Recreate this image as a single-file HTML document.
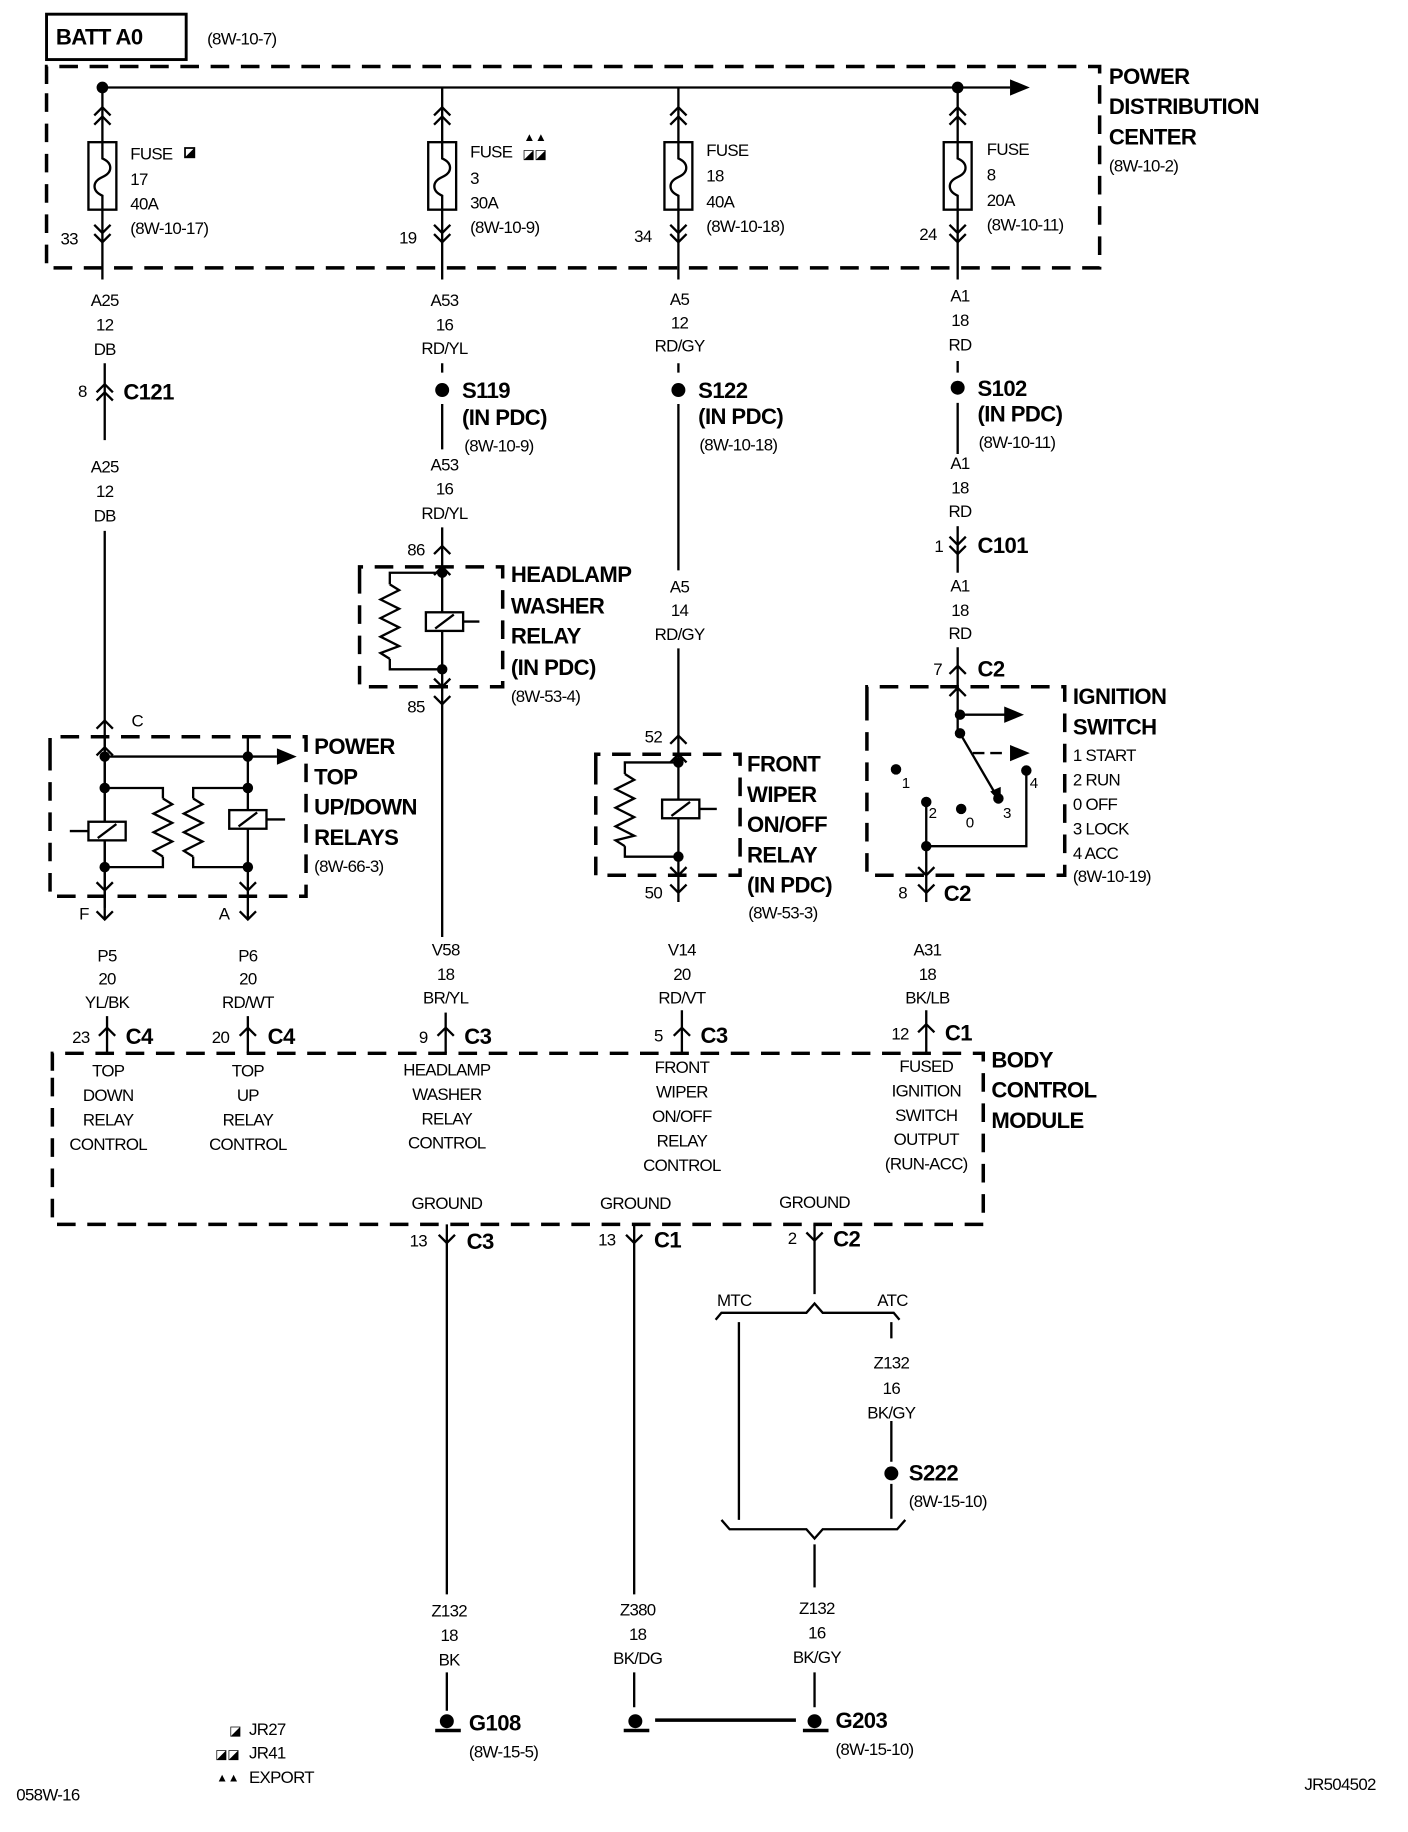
<!DOCTYPE html>
<html><head><meta charset="utf-8"><style>
html,body{margin:0;padding:0;background:#fff}
svg{display:block}
text{font-family:"Liberation Sans",sans-serif;fill:#000}
.t{font-size:14.5px;letter-spacing:-0.6px}
.c{text-anchor:middle}
.b{font-size:19px;font-weight:bold;letter-spacing:-0.5px}
.w{stroke:#000;stroke-width:2;fill:none}
.d{stroke:#000;stroke-width:3;fill:none;stroke-dasharray:16,10}
</style></head><body>
<svg width="1408" height="1832" viewBox="0 0 1210 1574" xmlns="http://www.w3.org/2000/svg">
<defs>
<path id="up" d="M-7 7 L0 0 L7 7" stroke="#000" stroke-width="2" fill="none"/>
<path id="dn" d="M-7 -7 L0 0 L7 -7" stroke="#000" stroke-width="2" fill="none"/>
<g id="fuse"><rect x="-12" y="0" width="24" height="58" fill="#fff" stroke="#000" stroke-width="2"/><path d="M0 0 V14 C9 18 9 26 0 30 C-9 34 -9 42 0 46 V58" stroke="#000" stroke-width="2" fill="none"/></g>
<g id="coil"><rect x="-16" y="-8" width="32" height="16" fill="#fff" stroke="#000" stroke-width="2"/><path d="M-8 6 L8 -6" stroke="#000" stroke-width="2"/></g>
<path id="res" d="M0 0 L8 5 L-8 13 L8 21 L-8 29 L8 37 L-8 45 L0 50" stroke="#000" stroke-width="2" fill="none"/>
<g id="gnd"><circle cx="0" cy="-4" r="6" fill="#000"/><path d="M-10 4 H12" stroke="#000" stroke-width="3"/></g>
</defs>

<!-- BATT -->
<rect x="40" y="12" width="120" height="39" fill="none" stroke="#000" stroke-width="2.5"/>
<text x="48" y="38" class="b">BATT A0</text>
<text x="178" y="38" class="t">(8W-10-7)</text>

<!-- PDC -->
<path class="d" d="M40 72 V57 H945 V230 H40 V72"/>
<path class="w" d="M88 75 H868"/>
<path d="M868 68 L885 75 L868 82 Z" fill="#000"/>
<circle cx="88" cy="75" r="5"/><circle cx="823" cy="75" r="5"/>
<text x="953" y="72" class="b">POWER</text>
<text x="953" y="98" class="b">DISTRIBUTION</text>
<text x="953" y="124" class="b">CENTER</text>
<text x="953" y="147" class="t">(8W-10-2)</text>

<!-- fuse columns -->
<g>
<path class="w" d="M88 75 V240"/><use href="#up" x="88" y="92"/><use href="#up" x="88" y="100"/><use href="#fuse" x="88" y="122"/><use href="#dn" x="88" y="200"/><use href="#dn" x="88" y="208"/>
<text x="112" y="137" class="t">FUSE</text><rect x="159" y="127" width="8" height="8" fill="none" stroke="#000" stroke-width="1.5"/><path d="M159 135 L167 127 V135Z"/>
<text x="112" y="159" class="t">17</text><text x="112" y="180" class="t">40A</text><text x="112" y="201" class="t">(8W-10-17)</text><text x="52" y="210" class="t">33</text>
</g>
<g>
<path class="w" d="M380 75 V240"/><use href="#up" x="380" y="92"/><use href="#up" x="380" y="100"/><use href="#fuse" x="380" y="122"/><use href="#dn" x="380" y="200"/><use href="#dn" x="380" y="208"/>
<text x="404" y="135" class="t">FUSE</text><text x="450" y="121" style="font-size:10px">▲▲</text><text x="449" y="136" style="font-size:11px">◪◪</text>
<text x="404" y="158" class="t">3</text><text x="404" y="179" class="t">30A</text><text x="404" y="200" class="t">(8W-10-9)</text><text x="343" y="209" class="t">19</text>
</g>
<g>
<path class="w" d="M583 75 V240"/><use href="#up" x="583" y="92"/><use href="#up" x="583" y="100"/><use href="#fuse" x="583" y="122"/><use href="#dn" x="583" y="200"/><use href="#dn" x="583" y="208"/>
<text x="607" y="134" class="t">FUSE</text><text x="607" y="156" class="t">18</text><text x="607" y="178" class="t">40A</text><text x="607" y="199" class="t">(8W-10-18)</text><text x="545" y="208" class="t">34</text>
</g>
<g>
<path class="w" d="M823 75 V240"/><use href="#up" x="823" y="92"/><use href="#up" x="823" y="100"/><use href="#fuse" x="823" y="122"/><use href="#dn" x="823" y="200"/><use href="#dn" x="823" y="208"/>
<text x="848" y="133" class="t">FUSE</text><text x="848" y="155" class="t">8</text><text x="848" y="177" class="t">20A</text><text x="848" y="198" class="t">(8W-10-11)</text><text x="790" y="206" class="t">24</text>
</g>

<!-- column 1 -->
<text x="90" y="263" class="t c">A25</text><text x="90" y="284" class="t c">12</text><text x="90" y="305" class="t c">DB</text>
<path class="w" d="M90 312 V378"/><use href="#up" x="90" y="330"/><use href="#up" x="90" y="337"/>
<text x="67" y="341" class="t">8</text><text x="106" y="343" class="b">C121</text>
<text x="90" y="406" class="t c">A25</text><text x="90" y="427" class="t c">12</text><text x="90" y="448" class="t c">DB</text>
<path class="w" d="M90 456 V780"/><use href="#up" x="90" y="619"/><text x="113" y="624" class="t">C</text>
<path class="d" d="M43 650 V633 H263 V770 H43 V650"/>
<path class="w" d="M90 633 V790"/><use href="#up" x="90" y="642"/><use href="#dn" x="90" y="765"/><use href="#dn" x="90" y="790"/>
<path class="w" d="M213 633 V790"/><use href="#dn" x="213" y="765"/><use href="#dn" x="213" y="790"/>
<path class="w" d="M90 650 H238"/><path d="M238 643 L255 650 L238 657Z"/>
<circle cx="90" cy="650" r="4.5"/><circle cx="213" cy="650" r="4.5"/>
<circle cx="90" cy="677" r="4.5"/><circle cx="213" cy="677" r="4.5"/>
<circle cx="90" cy="745" r="4.5"/><circle cx="213" cy="745" r="4.5"/>
<path class="w" d="M90 677 H140 V686 M140 736 V745 H90"/><use href="#res" x="140" y="686"/>
<path class="w" d="M213 677 H166 V686 M166 736 V745 H213"/><use href="#res" x="166" y="686"/>
<use href="#coil" x="92" y="714"/><path class="w" d="M60 714 H76"/>
<use href="#coil" x="213" y="704"/><path class="w" d="M229 704 H245"/>
<text x="270" y="648" class="b">POWER</text><text x="270" y="674" class="b">TOP</text><text x="270" y="700" class="b">UP/DOWN</text><text x="270" y="726" class="b">RELAYS</text><text x="270" y="749" class="t">(8W-66-3)</text>
<text x="68" y="790" class="t">F</text><text x="188" y="790" class="t">A</text>
<text x="92" y="826" class="t c">P5</text><text x="92" y="846" class="t c">20</text><text x="92" y="866" class="t c">YL/BK</text>
<text x="213" y="826" class="t c">P6</text><text x="213" y="846" class="t c">20</text><text x="213" y="866" class="t c">RD/WT</text>
<path class="w" d="M92 873 V905 M213 873 V905"/><use href="#up" x="92" y="883"/><use href="#up" x="213" y="883"/>
<text x="62" y="896" class="t">23</text><text x="108" y="897" class="b">C4</text>
<text x="182" y="896" class="t">20</text><text x="230" y="897" class="b">C4</text>

<!-- column 2 -->
<text x="382" y="263" class="t c">A53</text><text x="382" y="284" class="t c">16</text><text x="382" y="304" class="t c">RD/YL</text>
<path class="w" d="M380 312 V320 M380 347 V386"/><circle cx="380" cy="335" r="6"/>
<text x="397" y="342" class="b">S119</text><text x="397" y="365" class="b">(IN PDC)</text><text x="399" y="388" class="t">(8W-10-9)</text>
<text x="382" y="404" class="t c">A53</text><text x="382" y="425" class="t c">16</text><text x="382" y="446" class="t c">RD/YL</text>
<path class="w" d="M380 453 V805"/><use href="#up" x="380" y="469"/><use href="#up" x="380" y="487"/>
<text x="350" y="477" class="t">86</text>
<path class="d" d="M309 500 V487 H432 V590 H309 V500"/>
<circle cx="380" cy="492" r="4.5"/><circle cx="380" cy="575" r="4.5"/>
<path class="w" d="M380 492 H335 V502 M335 566 V575 H380"/><path class="w" d="M335 502 L343 507 L327 515 L343 523 L327 531 L343 539 L327 547 L343 555 L327 561 L335 566"/>
<use href="#coil" x="382" y="534"/><path class="w" d="M398 534 H412"/>
<use href="#dn" x="380" y="590"/><use href="#dn" x="380" y="605"/><text x="350" y="612" class="t">85</text>
<text x="439" y="500" class="b">HEADLAMP</text><text x="439" y="527" class="b">WASHER</text><text x="439" y="553" class="b">RELAY</text><text x="439" y="580" class="b">(IN PDC)</text><text x="439" y="603" class="t">(8W-53-4)</text>
<text x="383" y="821" class="t c">V58</text><text x="383" y="842" class="t c">18</text><text x="383" y="862" class="t c">BR/YL</text>
<path class="w" d="M383 870 V905"/><use href="#up" x="383" y="883"/><text x="360" y="896" class="t">9</text><text x="399" y="897" class="b">C3</text>

<!-- column 3 -->
<text x="584" y="262" class="t c">A5</text><text x="584" y="282" class="t c">12</text><text x="584" y="302" class="t c">RD/GY</text>
<path class="w" d="M583 312 V320 M583 347 V490"/><circle cx="583" cy="335" r="6"/>
<text x="600" y="342" class="b">S122</text><text x="600" y="364" class="b">(IN PDC)</text><text x="601" y="387" class="t">(8W-10-18)</text>
<text x="584" y="509" class="t c">A5</text><text x="584" y="529" class="t c">14</text><text x="584" y="550" class="t c">RD/GY</text>
<path class="w" d="M583 557 V775"/><use href="#up" x="583" y="632"/><use href="#up" x="583" y="648"/>
<text x="554" y="638" class="t">52</text>
<path class="d" d="M512 660 V648 H636 V752 H512 V660"/>
<circle cx="583" cy="655" r="4.5"/><circle cx="583" cy="736" r="4.5"/>
<path class="w" d="M583 655 H537 V665 M537 727 V736 H583"/><path class="w" d="M537 665 L545 670 L529 678 L545 686 L529 694 L545 702 L529 710 L545 718 L529 722 L537 727"/>
<use href="#coil" x="585" y="695"/><path class="w" d="M601 695 H616"/>
<use href="#dn" x="583" y="752"/><use href="#dn" x="583" y="767"/><text x="554" y="772" class="t">50</text>
<text x="642" y="663" class="b">FRONT</text><text x="642" y="689" class="b">WIPER</text><text x="642" y="715" class="b">ON/OFF</text><text x="642" y="741" class="b">RELAY</text><text x="642" y="767" class="b">(IN PDC)</text><text x="643" y="789" class="t">(8W-53-3)</text>
<text x="586" y="821" class="t c">V14</text><text x="586" y="842" class="t c">20</text><text x="586" y="862" class="t c">RD/VT</text>
<path class="w" d="M586 868 V905"/><use href="#up" x="586" y="883"/><text x="562" y="895" class="t">5</text><text x="602" y="896" class="b">C3</text>

<!-- column 4 -->
<text x="825" y="259" class="t c">A1</text><text x="825" y="280" class="t c">18</text><text x="825" y="301" class="t c">RD</text>
<path class="w" d="M823 310 V320 M823 346 V390"/><circle cx="823" cy="333" r="6"/>
<text x="840" y="340" class="b">S102</text><text x="840" y="362" class="b">(IN PDC)</text><text x="841" y="385" class="t">(8W-10-11)</text>
<text x="825" y="403" class="t c">A1</text><text x="825" y="424" class="t c">18</text><text x="825" y="444" class="t c">RD</text>
<path class="w" d="M823 452 V492"/><use href="#dn" x="823" y="468"/><use href="#dn" x="823" y="476"/>
<text x="803" y="474" class="t">1</text><text x="840" y="475" class="b">C101</text>
<text x="825" y="508" class="t c">A1</text><text x="825" y="529" class="t c">18</text><text x="825" y="549" class="t c">RD</text>
<path class="w" d="M823 556 V630"/><use href="#up" x="823" y="572"/><use href="#up" x="823" y="591"/>
<text x="802" y="580" class="t">7</text><text x="840" y="581" class="b">C2</text>
<path class="d" d="M745 605 V590 H915 V752 H745 V605"/>
<circle cx="825" cy="614" r="4.5"/><circle cx="825" cy="630" r="4.5"/>
<path class="w" d="M825 614 H865"/><path d="M863 607 L880 614 L863 621Z"/>
<path class="w" d="M836 647 H866" stroke-dasharray="10,5"/><path d="M868 640 L885 647 L868 654Z"/>
<path class="w" d="M825 630 L856 683"/><path d="M851 680 L860 690 L860 676Z"/>
<circle cx="770" cy="661" r="4.5"/><text x="775" y="677" class="t" style="font-size:13px">1</text>
<circle cx="796" cy="689" r="4.5"/><text x="798" y="703" class="t" style="font-size:13px">2</text>
<circle cx="826" cy="695" r="4.5"/><text x="830" y="711" class="t" style="font-size:13px">0</text>
<circle cx="858" cy="686" r="4.5"/><text x="862" y="703" class="t" style="font-size:13px">3</text>
<circle cx="882" cy="662" r="4.5"/><text x="885" y="677" class="t" style="font-size:13px">4</text>
<path class="w" d="M796 689 V727 H882 V662"/><circle cx="796" cy="727" r="4.5"/>
<path class="w" d="M796 727 V775"/><use href="#dn" x="796" y="752"/><use href="#dn" x="796" y="767"/>
<text x="922" y="605" class="b">IGNITION</text><text x="922" y="631" class="b">SWITCH</text>
<text x="922" y="654" class="t">1 START</text><text x="922" y="675" class="t">2 RUN</text><text x="922" y="696" class="t">0 OFF</text><text x="922" y="717" class="t">3 LOCK</text><text x="922" y="738" class="t">4 ACC</text><text x="922" y="758" class="t">(8W-10-19)</text>
<text x="772" y="772" class="t">8</text><text x="811" y="774" class="b">C2</text>
<text x="797" y="821" class="t c">A31</text><text x="797" y="842" class="t c">18</text><text x="797" y="862" class="t c">BK/LB</text>
<path class="w" d="M796 868 V905"/><use href="#up" x="796" y="880"/><text x="766" y="893" class="t">12</text><text x="812" y="894" class="b">C1</text>

<!-- BCM -->
<path class="d" d="M45 920 V905 H845 V1052 H45 V920"/>
<text x="852" y="917" class="b">BODY</text><text x="852" y="943" class="b">CONTROL</text><text x="852" y="969" class="b">MODULE</text>
<g class="t c">
<text x="93" y="925">TOP</text><text x="93" y="946">DOWN</text><text x="93" y="967">RELAY</text><text x="93" y="988">CONTROL</text>
<text x="213" y="925">TOP</text><text x="213" y="946">UP</text><text x="213" y="967">RELAY</text><text x="213" y="988">CONTROL</text>
<text x="384" y="924">HEADLAMP</text><text x="384" y="945">WASHER</text><text x="384" y="966">RELAY</text><text x="384" y="987">CONTROL</text>
<text x="586" y="922">FRONT</text><text x="586" y="943">WIPER</text><text x="586" y="964">ON/OFF</text><text x="586" y="985">RELAY</text><text x="586" y="1006">CONTROL</text>
<text x="796" y="921">FUSED</text><text x="796" y="942">IGNITION</text><text x="796" y="963">SWITCH</text><text x="796" y="984">OUTPUT</text><text x="796" y="1005">(RUN-ACC)</text>
<text x="384" y="1039">GROUND</text><text x="546" y="1039">GROUND</text><text x="700" y="1038">GROUND</text>
</g>

<!-- grounds -->
<path class="w" d="M384 1052 V1370"/><use href="#dn" x="384" y="1068"/><text x="352" y="1071" class="t">13</text><text x="401" y="1073" class="b">C3</text>
<path class="w" d="M545 1052 V1370"/><use href="#dn" x="545" y="1068"/><text x="514" y="1070" class="t">13</text><text x="562" y="1072" class="b">C1</text>
<path class="w" d="M700 1052 V1112"/><use href="#dn" x="700" y="1066"/><text x="677" y="1069" class="t">2</text><text x="716" y="1071" class="b">C2</text>
<text x="631" y="1122" class="t c">MTC</text><text x="767" y="1122" class="t c">ATC</text>
<path class="w" d="M615 1134 L620 1128 H693 L700 1120 L707 1128 H768 L773 1134" stroke-width="1.5"/>
<path class="w" d="M635 1136 V1306 M766 1136 V1150 M766 1221 V1256 M766 1275 V1305"/>
<text x="766" y="1176" class="t c">Z132</text><text x="766" y="1198" class="t c">16</text><text x="766" y="1219" class="t c">BK/GY</text>
<circle cx="766" cy="1266" r="6"/><text x="781" y="1272" class="b">S222</text><text x="781" y="1295" class="t">(8W-15-10)</text>
<path class="w" d="M620 1306 L627 1314 H693 L700 1322 L707 1314 H771 L778 1306" stroke-width="1.5"/>
<path class="w" d="M700 1327 V1364"/>
<text x="386" y="1389" class="t c">Z132</text><text x="386" y="1410" class="t c">18</text><text x="386" y="1431" class="t c">BK</text>
<text x="548" y="1388" class="t c">Z380</text><text x="548" y="1409" class="t c">18</text><text x="548" y="1430" class="t c">BK/DG</text>
<text x="702" y="1387" class="t c">Z132</text><text x="702" y="1408" class="t c">16</text><text x="702" y="1429" class="t c">BK/GY</text>
<path class="w" d="M384 1437 V1470 M545 1437 V1467 M700 1437 V1467"/>
<use href="#gnd" x="384" y="1483"/><text x="403" y="1487" class="b">G108</text><text x="403" y="1510" class="t">(8W-15-5)</text>
<use href="#gnd" x="546" y="1483"/><path d="M563 1478 H684" stroke="#000" stroke-width="3"/>
<use href="#gnd" x="700" y="1483"/><text x="718" y="1485" class="b">G203</text><text x="718" y="1508" class="t">(8W-15-10)</text>

<!-- footer -->
<text x="197" y="1491" style="font-size:11px">◪</text><text x="214" y="1491" class="t">JR27</text>
<text x="185" y="1511" style="font-size:11px">◪◪</text><text x="214" y="1511" class="t">JR41</text>
<text x="186" y="1531" style="font-size:10px">▲▲</text><text x="214" y="1532" class="t">EXPORT</text>
<text x="14" y="1547" class="t">058W-16</text>
<text x="1121" y="1538" class="t">JR504502</text>
</svg>
</body></html>
